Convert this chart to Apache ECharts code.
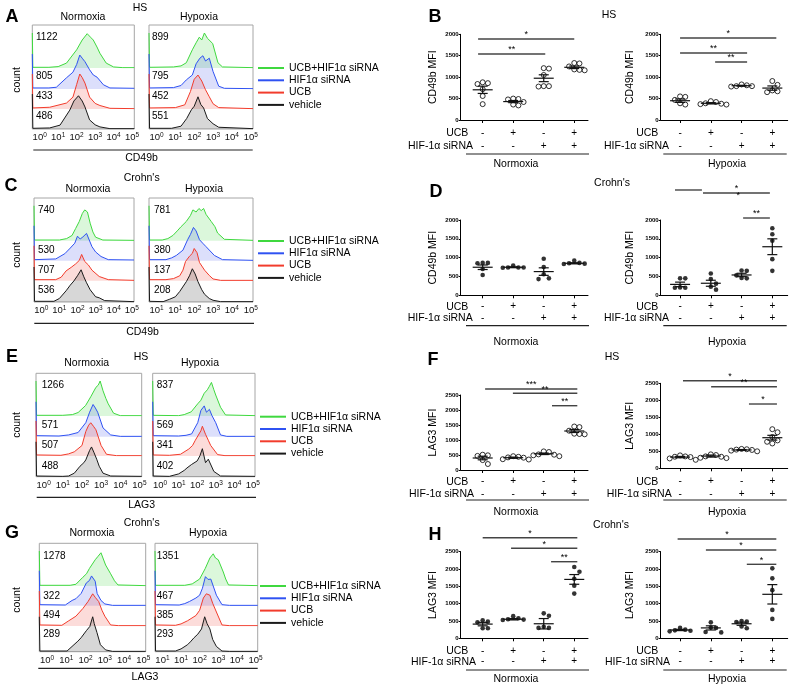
<!DOCTYPE html>
<html><head><meta charset="utf-8">
<script src="https://cdn.jsdelivr.net/npm/echarts@6/dist/echarts.min.js"></script>
<style>html,body{margin:0;padding:0;background:#fff}#c{width:800px;height:690px}</style>
</head><body><div id="c"></div><script>
const FONT = '"Liberation Sans", Arial, Helvetica, sans-serif';

// ---------- categories / labels ----------
const groupNames = ['UCB+HIF1α siRNA', 'HIF1α siRNA', 'UCB', 'vehicle'];
const ucbSigns = ['-', '+', '-', '+'];
const sirnaSigns = ['-', '-', '+', '+'];
const decadeLabels = ['0', '1', '2', '3', '4', '5'];
const decadeLabelsAlt = ['1', '1', '2', '3', '4', '5'];
const decadeTicks = [0, 1, 2, 3, 4, 5];
const groupTicks = [1, 2, 3, 4];

// ---------- histogram data: [log10 intensity, % of max count] ----------
const hA_N_green = [[-0.4,100],[-0.37,2],[0.5,2],[1.0,4],[1.45,14],[2.0,52],[2.3,80],[2.57,98],[2.75,88],[2.9,80],[3.1,60],[3.26,42],[3.6,14],[4.0,3],[4.5,1],[5.12,1]];
const hA_N_blue  = [[-0.4,100],[-0.37,3],[0.5,3],[0.9,5],[1.45,32],[1.8,48],[2.0,70],[2.17,97],[2.3,88],[2.45,78],[2.7,55],[2.9,40],[3.1,34],[3.45,12],[3.8,3],[5.12,2]];
const hA_N_red   = [[-0.4,100],[-0.37,3],[0.54,5],[1.45,17],[1.8,34],[2.0,70],[2.17,100],[2.3,90],[2.45,74],[2.7,34],[3.0,16],[3.26,10],[3.8,2],[5.12,1]];
const hA_N_black = [[-0.4,100],[-0.37,2],[0.54,3],[1.1,11],[1.63,54],[1.85,80],[2.1,95],[2.3,80],[2.45,63],[2.7,26],[3.0,12],[3.26,6],[3.8,1],[5.12,1]];
const hA_H_green = [[-0.4,100],[-0.37,2],[0.9,3],[1.3,6],[1.58,15],[1.9,52],[2.1,72],[2.27,88],[2.4,80],[2.54,100],[2.7,85],[2.98,70],[3.26,15],[3.5,3],[5.12,1]];
const hA_H_blue  = [[-0.4,100],[-0.37,3],[0.9,4],[1.3,10],[1.58,26],[1.9,40],[2.1,72],[2.3,88],[2.46,95],[2.6,80],[2.8,88],[3.0,50],[3.3,8],[3.6,2],[5.12,1]];
const hA_H_red   = [[-0.4,100],[-0.37,3],[1.0,4],[1.5,12],[1.8,50],[2.0,85],[2.2,97],[2.4,80],[2.6,55],[2.8,35],[3.0,15],[3.3,4],[5.12,1]];
const hA_H_black = [[-0.4,100],[-0.37,2],[0.8,2],[1.3,8],[1.6,30],[1.85,55],[2.0,65],[2.2,92],[2.35,70],[2.5,60],[2.7,30],[3.0,15],[3.3,5],[5.12,1]];

const hC_N_green = [[-0.4,100],[-0.37,2],[1.0,2],[1.4,6],[1.7,15],[1.9,35],[2.1,55],[2.27,78],[2.4,88],[2.55,82],[2.7,50],[2.85,25],[3.0,10],[3.4,2],[5.12,1]];
const hC_N_blue  = [[-0.4,100],[-0.37,3],[0.8,5],[1.3,20],[1.6,36],[1.85,50],[2.0,70],[2.15,62],[2.3,68],[2.5,78],[2.8,40],[3.0,25],[3.3,12],[3.7,3],[5.12,2]];
const hC_N_red   = [[-0.4,100],[-0.37,3],[0.8,3],[1.1,10],[1.37,28],[1.65,38],[1.9,48],[2.1,58],[2.23,75],[2.4,55],[2.6,45],[2.8,30],[3.2,12],[3.7,3],[5.12,1]];
const hC_N_black = [[-0.4,100],[-0.37,2],[0.7,2],[1.0,10],[1.37,32],[1.6,48],[1.8,60],[2.0,75],[2.1,70],[2.2,92],[2.35,72],[2.5,55],[2.7,35],[3.0,15],[3.2,12],[3.5,4],[5.12,1]];
const hC_H_green = [[-0.4,100],[-0.37,2],[0.3,2],[0.6,6],[0.87,15],[1.1,28],[1.3,40],[1.58,55],[1.8,72],[1.93,88],[2.1,82],[2.25,92],[2.37,86],[2.5,92],[2.63,75],[2.9,55],[3.1,40],[3.24,22],[3.6,4],[5.12,1]];
const hC_H_blue  = [[-0.4,100],[-0.37,3],[0.5,3],[0.8,8],[1.05,15],[1.4,30],[1.65,60],[1.8,75],[1.96,95],[2.1,85],[2.28,60],[2.45,50],[2.63,40],[3.07,15],[3.5,3],[5.12,1]];
const hC_H_red   = [[-0.4,100],[-0.37,3],[0.5,3],[0.9,6],[1.23,14],[1.4,30],[1.54,55],[1.75,70],[1.9,78],[2.0,92],[2.15,80],[2.28,52],[2.55,30],[2.8,15],[3.0,5],[3.4,1],[5.12,1]];
const hC_H_black = [[-0.4,100],[-0.37,2],[0.35,1],[0.7,8],[1.0,15],[1.23,30],[1.58,58],[1.75,75],[1.9,95],[2.05,80],[2.2,58],[2.4,35],[2.55,22],[2.8,10],[3.0,5],[3.4,1],[5.12,1]];

const hE_N_green = [[-0.4,100],[-0.37,2],[1.0,2],[1.5,4],[1.8,10],[2.19,30],[2.46,55],[2.73,82],[2.85,88],[2.95,100],[3.1,72],[3.25,50],[3.37,35],[3.65,8],[4.0,1],[5.12,1]];
const hE_N_blue  = [[-0.4,100],[-0.37,3],[0.8,2],[1.3,5],[1.8,12],[2.2,40],[2.4,70],[2.58,92],[2.7,82],[2.82,70],[3.1,25],[3.5,5],[4.0,1],[5.12,1]];
const hE_N_red   = [[-0.4,100],[-0.37,3],[0.9,2],[1.3,6],[1.6,12],[2.0,30],[2.2,70],[2.35,88],[2.46,95],[2.6,85],[2.73,75],[3.0,30],[3.28,5],[3.8,1],[5.12,1]];
const hE_N_black = [[-0.4,100],[-0.37,2],[1.0,1],[1.3,2],[1.6,10],[1.9,30],[2.1,40],[2.2,48],[2.4,75],[2.5,85],[2.62,70],[2.77,50],[2.9,30],[3.1,10],[3.5,2],[5.12,1]];
const hE_H_green = [[-0.4,100],[-0.37,2],[1.0,1],[1.3,4],[1.68,12],[2.03,35],[2.2,45],[2.38,65],[2.55,75],[2.66,85],[2.77,96],[2.9,75],[3.0,60],[3.26,25],[3.53,3],[5.12,1]];
const hE_H_blue  = [[-0.4,100],[-0.37,3],[1.0,2],[1.4,4],[1.7,8],[2.03,40],[2.2,75],[2.38,88],[2.5,70],[2.66,78],[2.8,60],[3.0,40],[3.26,5],[3.6,1],[5.12,1]];
const hE_H_red   = [[-0.4,100],[-0.37,3],[0.5,2],[1.1,5],[1.55,20],[1.75,30],[1.9,45],[2.2,72],[2.28,85],[2.45,62],[2.6,45],[2.73,30],[3.1,4],[3.5,1],[5.12,1]];
const hE_H_black = [[-0.4,100],[-0.37,2],[0.5,1],[1.0,8],[1.3,18],[1.45,25],[1.7,35],[2.0,45],[2.15,60],[2.28,80],[2.45,40],[2.6,50],[2.9,15],[3.26,2],[5.12,1]];

const hG_N_green = [[-0.4,100],[-0.37,2],[1.2,2],[1.5,5],[1.86,25],[2.05,35],[2.2,50],[2.5,75],[2.65,85],[2.8,95],[3.04,60],[3.3,35],[3.5,15],[3.68,3],[5.12,1]];
const hG_N_blue  = [[-0.4,100],[-0.37,3],[0.95,2],[1.3,15],[1.5,20],[1.77,35],[2.04,65],[2.2,72],[2.31,85],[2.5,70],[2.6,35],[2.8,15],[3.0,5],[3.4,1],[5.12,1]];
const hG_N_red   = [[-0.4,100],[-0.37,3],[0.77,2],[1.13,15],[1.5,28],[1.86,50],[2.13,70],[2.37,92],[2.5,82],[2.68,70],[2.85,45],[3.0,28],[3.3,3],[3.7,1],[5.12,1]];
const hG_N_black = [[-0.4,100],[-0.37,2],[1.04,2],[1.4,20],[1.6,30],[1.77,40],[2.04,60],[2.22,72],[2.37,100],[2.45,80],[2.59,55],[2.77,20],[3.04,5],[3.4,1],[5.12,1]];
const hG_H_green = [[-0.4,100],[-0.37,2],[1.2,2],[1.6,6],[2.0,20],[2.3,50],[2.55,80],[2.73,92],[2.85,80],[3.0,75],[3.27,40],[3.4,20],[3.55,3],[5.12,1]];
const hG_H_blue  = [[-0.4,100],[-0.37,3],[0.9,2],[1.2,6],[1.45,12],[1.8,22],[2.0,30],[2.15,50],[2.31,83],[2.45,75],[2.6,76],[2.9,30],[3.2,3],[3.6,1],[5.12,1]];
const hG_H_red   = [[-0.4,100],[-0.37,3],[0.7,2],[1.0,6],[1.35,15],[1.8,30],[2.0,45],[2.2,80],[2.36,92],[2.55,88],[2.7,65],[2.9,40],[3.2,3],[3.6,1],[5.12,1]];
const hG_H_black = [[-0.4,100],[-0.37,2],[0.7,2],[1.0,8],[1.35,20],[1.5,28],[1.7,40],[1.9,50],[2.1,65],[2.27,100],[2.4,80],[2.55,65],[2.7,35],[2.9,15],[3.2,2],[3.6,1],[5.12,1]];

// ---------- MFI numbers printed in histograms (top->bottom rows) ----------
const mfiA_N = [1122, 805, 433, 486];
const mfiA_H = [899, 795, 452, 551];
const mfiC_N = [740, 530, 707, 536];
const mfiC_H = [781, 380, 137, 208];
const mfiE_N = [1266, 571, 507, 488];
const mfiE_H = [837, 569, 341, 402];
const mfiG_N = [1278, 322, 494, 289];
const mfiG_H = [1351, 467, 385, 293];

// ---------- dot plot data (MFI per donor), mean, SEM, significance [x1,x2,y,label] ----------
const B_N_pts = [[880,840,860,720,560,370],[500,480,490,420,340,360],[1210,1200,1050,790,780,790],[1330,1320,1250,1180,1160,1170]];
const B_N_mean = [705, 430, 975, 1230];
const B_N_sem = [85, 25, 80, 30];
const B_N_sig = [[0.85,4.0,1890,'*'],[0.85,3.05,1540,'**']];
const B_H_pts = [[550,540,470,390,360],[440,390,360,370,420,380],[830,790,780,790,810],[910,820,690,650,670]];
const B_H_mean = [450, 390, 800, 745];
const B_H_sem = [40, 15, 10, 50];
const B_H_sig = [[1.0,4.13,1914,'*'],[1.0,3.18,1564,'**'],[2.14,3.18,1354,'**']];

const D_N_pts = [[860,850,860,700,540],[790,740,730,740,740],[970,750,560,450,430],[920,860,840,830,850]];
const D_N_mean = [745, 745, 630, 850];
const D_N_sem = [60, 12, 100, 15];
const D_N_sig = [];
const D_H_pts = [[450,450,200,200,210],[580,430,310,230,150],[660,650,530,460,450],[1780,1620,1450,960,650]];
const D_H_mean = [290, 320, 540, 1290];
const D_H_sem = [60, 80, 45, 210];
const D_H_sig = [[0.835,1.71,2797,''],[1.745,3.92,2717,'*'],[2.89,2.89,2550,'*'],[3.05,3.92,2053,'**']];

const F_N_pts = [[490,470,510,330,200],[460,440,410,360,350,420],[620,600,520,460,490,510],[1450,1430,1310,1210,1190,1200]];
const F_N_mean = [400, 410, 540, 1300];
const F_N_sem = [60, 20, 25, 50];
const F_N_sig = [[1.08,4.1,2700,'***'],[1.99,4.1,2557,'**'],[3.27,4.1,2143,'**']];
const F_H_pts = [[380,350,340,290,250,330],[410,390,340,300,310,350],[570,560,550,520,500,540],[1150,1060,920,820,730,780]];
const F_H_mean = [330, 360, 540, 900];
const F_H_sem = [20, 30, 12, 70];
const F_H_sig = [[1.095,4.15,2576,'*'],[2.01,4.15,2400,'**'],[3.24,4.15,1891,'*']];

const H_N_pts = [[480,460,520,290,290],[640,550,530,540,580],[720,650,330,300,300],[2060,1920,1720,1520,1290]];
const H_N_mean = [410, 550, 420, 1700];
const H_N_sem = [50, 20, 150, 140];
const H_N_sig = [[1.0,4.1,2904,'*'],[1.93,4.1,2598,'*'],[3.24,4.1,2211,'**']];
const H_H_pts = [[300,250,200,230,220],[460,310,180,170,300],[480,470,500,340,290],[2020,1730,1390,820,560]];
const H_H_mean = [240, 300, 420, 1270];
const H_H_sem = [18, 60, 45, 280];
const H_H_sig = [[0.92,4.13,2867,'*'],[1.84,4.13,2549,'*'],[3.17,4.13,2136,'*']];

// ---------- layout ----------
const XMIN = -0.4, XMAX = 5.12, ROW_H = 35;
const LINE_COLORS = ['#3fd83f', '#2f52f2', '#f23c2c', '#1a1a1a'];
const FILL_COLORS = ['rgba(70,215,70,0.28)', 'rgba(60,80,235,0.26)', 'rgba(240,60,50,0.26)', 'rgba(30,30,30,0.25)'];

const histLayout = [
  {top:25, bottom:129, base:[68,89,109,129], boxes:[[32.3,134.3],[149,253]], labels:[decadeLabels,decadeLabels],
   data:[[hA_N_green,hA_N_blue,hA_N_red,hA_N_black],[hA_H_green,hA_H_blue,hA_H_red,hA_H_black]], mfi:[mfiA_N,mfiA_H], mfiX:[36,152], mfiY:[37.7,76.7,96.7,116.7]},
  {top:198, bottom:302, base:[240.7,260.7,280.7,302], boxes:[[34,134],[149,253]], labels:[decadeLabels,decadeLabelsAlt],
   data:[[hC_N_green,hC_N_blue,hC_N_red,hC_N_black],[hC_H_green,hC_H_blue,hC_H_red,hC_H_black]], mfi:[mfiC_N,mfiC_H], mfiX:[38,154], mfiY:[210.7,250,270,290]},
  {top:373.3, bottom:476.7, base:[416,436.7,456,476.7], boxes:[[36,141.7],[152.7,255]], labels:[decadeLabels,decadeLabels],
   data:[[hE_N_green,hE_N_blue,hE_N_red,hE_N_black],[hE_H_green,hE_H_blue,hE_H_red,hE_H_black]], mfi:[mfiE_N,mfiE_H], mfiX:[41.7,156.7], mfiY:[385,425,445,466]},
  {top:543.3, bottom:651.7, base:[586,605.7,626,651.7], boxes:[[39.3,145.7],[155,257.7]], labels:[decadeLabels,decadeLabelsAlt],
   data:[[hG_N_green,hG_N_blue,hG_N_red,hG_N_black],[hG_H_green,hG_H_blue,hG_H_red,hG_H_black]], mfi:[mfiG_N,mfiG_H], mfiX:[43.3,156.7], mfiY:[556.7,596,615,634]}
];

const dotLayout = [
  {pts:B_N_pts, mean:B_N_mean, sem:B_N_sem, sig:B_N_sig, left:460.7, width:127.3, top:34.3, bottom:120, xmin:0.28, xmax:4.45, ymax:2000, name:'CD49b MFI', gap:22, filled:false, m:6.5, lh:13},
  {pts:B_H_pts, mean:B_H_mean, sem:B_H_sem, sig:B_H_sig, left:660.7, width:127, top:34.3, bottom:120, xmin:0.37, xmax:4.5, ymax:2000, name:'CD49b MFI', gap:25, filled:false, m:6.5, lh:13},
  {pts:D_N_pts, mean:D_N_mean, sem:D_N_sem, sig:D_N_sig, left:460.7, width:127.3, top:220, bottom:295.3, xmin:0.28, xmax:4.45, ymax:2000, name:'CD49b MFI', gap:22, filled:true, m:5.6, lh:11.6},
  {pts:D_H_pts, mean:D_H_mean, sem:D_H_sem, sig:D_H_sig, left:660.7, width:127, top:220, bottom:295.3, xmin:0.37, xmax:4.5, ymax:2000, name:'CD49b MFI', gap:25, filled:true, m:5.6, lh:11.6},
  {pts:F_N_pts, mean:F_N_mean, sem:F_N_sem, sig:F_N_sig, left:460.7, width:127.3, top:395, bottom:470, xmin:0.28, xmax:4.45, ymax:2500, name:'LAG3 MFI', gap:22, filled:false, m:5.5, lh:12.3},
  {pts:F_H_pts, mean:F_H_mean, sem:F_H_sem, sig:F_H_sig, left:660.7, width:127, top:383.3, bottom:468.3, xmin:0.37, xmax:4.5, ymax:2500, name:'LAG3 MFI', gap:25, filled:false, m:7.2, lh:12.3},
  {pts:H_N_pts, mean:H_N_mean, sem:H_N_sem, sig:H_N_sig, left:460.7, width:127.3, top:551.7, bottom:638.3, xmin:0.28, xmax:4.45, ymax:2500, name:'LAG3 MFI', gap:22, filled:true, m:7.3, lh:10.7},
  {pts:H_H_pts, mean:H_H_mean, sem:H_H_sem, sig:H_H_sig, left:660.7, width:127, top:551.7, bottom:638.3, xmin:0.37, xmax:4.5, ymax:2500, name:'LAG3 MFI', gap:25, filled:true, m:7.3, lh:10.7}
];

const grids = [], xAxes = [], yAxes = [], series = [], graphics = [], legends = [];
function addGrid(g, x, y) {
  grids.push(g); const i = grids.length - 1;
  x.gridIndex = i; y.gridIndex = i; xAxes.push(x); yAxes.push(y); return i;
}
function T(text, x, y, o = {}) {
  graphics.push({type:'text', x, y, rotation:o.rot || 0, silent:true, z:50,
    style:{text:String(text), fill:o.color || '#000', fontSize:o.size || 10.5, fontFamily:FONT,
      fontWeight:o.weight || 'normal', align:o.align || 'center', verticalAlign:'middle'}});
}
function L(x1, y1, x2, y2, o = {}) {
  graphics.push({type:'line', silent:true, z:50, shape:{x1, y1, x2, y2}, style:{stroke:o.color || '#222', lineWidth:o.w || 1}});
}
// beeswarm placement: horizontal pixel offsets so that symbols do not overlap
function swarmOffsets(vals, pxPerUnit) {
  const order = vals.map((v, i) => i).sort((a, b) => vals[b] - vals[a]);
  const placed = [], off = new Array(vals.length).fill(0);
  const cands = [0, 5.2, -5.2, 10.4, -10.4, 15.6, -15.6];
  order.forEach(i => {
    const c = cands.find(cx => placed.every(p => Math.hypot(cx - p.x, (vals[i] - p.v) * pxPerUnit) >= 5)) ?? 0;
    off[i] = c; placed.push({x:c, v:vals[i]});
  });
  return off;
}

// ---------- histograms ----------
histLayout.forEach(P => {
  P.boxes.forEach((bx, bi) => {
    const [x0, x1] = bx;
    const labs = P.labels[bi];
    addGrid({left:x0, top:P.top, width:x1 - x0, height:P.bottom - P.top, show:true, borderColor:'#a6a6a6', borderWidth:1, backgroundColor:'rgba(0,0,0,0)'},
      {type:'value', min:XMIN, max:XMAX, axisLine:{show:false}, axisTick:{show:false}, splitLine:{show:false},
       axisLabel:{customValues:decadeTicks, margin:3, formatter:v => '{a|10}{s|' + labs[Math.round(v)] + '}',
         rich:{a:{fontSize:9.5, fontFamily:FONT, color:'#111'}, s:{fontSize:6.5, fontFamily:FONT, color:'#111', verticalAlign:'top', padding:[0,0,4,0]}}}},
      {type:'value', show:false, min:0, max:1});
    P.data[bi].forEach((arr, ri) => {
      const gi = addGrid({left:x0, top:P.base[ri] - ROW_H, width:x1 - x0, height:ROW_H, show:false},
        {type:'value', min:XMIN, max:XMAX, show:false}, {type:'value', min:0, max:100, show:false});
      series.push({type:'line', name:groupNames[ri], xAxisIndex:gi, yAxisIndex:gi, data:arr,
        symbol:'none', showSymbol:false, color:LINE_COLORS[ri], itemStyle:{color:LINE_COLORS[ri]},
        lineStyle:{color:LINE_COLORS[ri], width:1}, areaStyle:{color:FILL_COLORS[ri], origin:'start'},
        silent:true, z:2 + ri, animation:false});
      T(P.mfi[bi][ri], P.mfiX[bi], P.mfiY[ri], {align:'left', size:10});
    });
  });
});

// ---------- dot plots ----------
dotLayout.forEach(D => {
  const gi = addGrid({left:D.left, top:D.top, width:D.width, height:D.bottom - D.top, show:false},
    {type:'value', min:D.xmin, max:D.xmax, splitLine:{show:false},
     axisLine:{show:true, onZero:false, lineStyle:{color:'#000', width:1}},
     axisTick:{show:true, customValues:groupTicks, length:3, lineStyle:{color:'#000'}},
     axisLabel:{customValues:groupTicks, margin:D.m, lineHeight:D.lh, fontSize:10, color:'#000', fontFamily:FONT,
       formatter:v => ucbSigns[Math.round(v) - 1] + '\n' + sirnaSigns[Math.round(v) - 1]}},
    {type:'value', min:0, max:D.ymax, interval:500, splitLine:{show:false},
     axisLine:{show:true, lineStyle:{color:'#000', width:1}}, axisTick:{show:true, length:2, lineStyle:{color:'#000'}},
     axisLabel:{fontSize:6, fontWeight:'bold', margin:2, color:'#000', fontFamily:FONT, formatter:v => String(v)},
     name:D.name, nameLocation:'middle', nameGap:D.gap, nameTextStyle:{fontSize:10.5, color:'#000', fontFamily:FONT}});
  const pxPerUnit = (D.bottom - D.top) / D.ymax;
  const pts = [];
  D.pts.forEach((arr, g) => {
    const off = swarmOffsets(arr, pxPerUnit);
    arr.forEach((v, i) => pts.push({value:[g + 1, v], symbolOffset:[off[i], 0]}));
  });
  series.push({type:'scatter', xAxisIndex:gi, yAxisIndex:gi, data:pts, symbol:'circle', symbolSize:D.filled ? 4.6 : 5,
    itemStyle:D.filled ? {color:'#000'} : {color:'#fff', borderColor:'#000', borderWidth:1}, silent:true, z:3, animation:false});
  series.push({type:'custom', xAxisIndex:gi, yAxisIndex:gi, silent:true, z:4, animation:false, clip:false,
    data:D.mean.map((m, g) => [g + 1, m, D.sem[g]]),
    renderItem:(params, api) => {
      const x = api.value(0), m = api.value(1), s = api.value(2);
      const c = api.coord([x, m]), hi = api.coord([x, m + s]), lo = api.coord([x, m - s]);
      const st = {stroke:'#111', lineWidth:1.2};
      return {type:'group', children:[
        {type:'line', shape:{x1:c[0] - 10, y1:c[1], x2:c[0] + 10, y2:c[1]}, style:st},
        {type:'line', shape:{x1:c[0], y1:hi[1], x2:c[0], y2:lo[1]}, style:st},
        {type:'line', shape:{x1:c[0] - 5, y1:hi[1], x2:c[0] + 5, y2:hi[1]}, style:st},
        {type:'line', shape:{x1:c[0] - 5, y1:lo[1], x2:c[0] + 5, y2:lo[1]}, style:st}
      ]};
    }});
  if (D.sig.length) {
    series.push({type:'custom', xAxisIndex:gi, yAxisIndex:gi, silent:true, z:5, animation:false, clip:false,
      data:D.sig.map(s => [s[0], s[1], s[2]]),
      renderItem:(params, api) => {
        const s = D.sig[params.dataIndex];
        const a = api.coord([s[0], s[2]]), b = api.coord([s[1], s[2]]);
        const ch = [];
        if (s[1] > s[0]) ch.push({type:'line', shape:{x1:a[0], y1:a[1], x2:b[0], y2:b[1]}, style:{stroke:'#444', lineWidth:1.4}});
        if (s[3]) ch.push({type:'text', x:(a[0] + b[0]) / 2, y:a[1] + 0.5,
          style:{text:s[3], fontSize:9, fontFamily:FONT, fill:'#000', align:'center', verticalAlign:'bottom'}});
        return {type:'group', children:ch};
      }});
  }
});

// ---------- legends ----------
[[258, 62], [258, 235], [260, 410.7], [260, 580]].forEach(p => legends.push({
  left:p[0], top:p[1], orient:'vertical', data:groupNames, icon:'rect', itemWidth:26, itemHeight:2, itemGap:0.3,
  selectedMode:false, padding:0, textStyle:{fontSize:10.5, fontFamily:FONT, color:'#000', lineHeight:12}}));

// ---------- text annotations ----------
[['A',12,17],['B',435,17],['C',11,186],['D',436,192],['E',12,357],['F',433,360],['G',12,533],['H',435,535]]
  .forEach(t => T(t[0], t[1], t[2], {size:18, weight:'bold'}));
T('HS', 140, 8.3); T('Normoxia', 83, 16.7); T('Hypoxia', 199, 16.7);
T("Crohn's", 141.7, 178.3); T('Normoxia', 88, 189); T('Hypoxia', 204, 189);
T('HS', 141, 356.7); T('Normoxia', 86.7, 363.3); T('Hypoxia', 200, 363.3);
T("Crohn's", 141.7, 523.3); T('Normoxia', 92, 533.3); T('Hypoxia', 208, 533.3);
[80, 255, 425, 600].forEach(y => T('count', 17, y, {rot:Math.PI / 2}));
L(33.3, 150, 252.7, 150, {w:1.2}); T('CD49b', 141.5, 158.3);
L(34.3, 323.3, 254, 323.3, {w:1.2}); T('CD49b', 142.5, 331.7);
L(36.7, 497.3, 256, 497.3, {w:1.2}); T('LAG3', 141.7, 505);
L(38.3, 668.3, 257.7, 668.3, {w:1.2}); T('LAG3', 145, 676.7);
T('HS', 609, 15); T("Crohn's", 612, 183.3); T('HS', 612, 356.7); T("Crohn's", 611, 525);
const rowLab = [
  [133, 146, 154, 164, 473, 669],
  [306.7, 318.3, 325.7, 341.7, 472.7, 669],
  [481.7, 494, 500, 511.7, 474, 671.7],
  [651, 661.7, 670, 679, 476, 670]
];
rowLab.forEach(r => {
  T('UCB', 468.3, r[0], {align:'right'}); T('HIF-1α siRNA', r[4], r[1], {align:'right'});
  T('UCB', 658.3, r[0], {align:'right'}); T('HIF-1α siRNA', r[5], r[1], {align:'right'});
  L(466, r[2], 589, r[2], {w:1.2}); L(663.3, r[2], 786.7, r[2], {w:1.2});
  T('Normoxia', 516, r[3]); T('Hypoxia', 727, r[3]);
});

const chart = echarts.init(document.getElementById('c'), null, {renderer:'canvas'});
chart.setOption({
  backgroundColor:'#fff', animation:false, textStyle:{fontFamily:FONT},
  grid:grids, xAxis:xAxes, yAxis:yAxes, series, legend:legends, graphic:{elements:graphics}
});
</script></body></html>
